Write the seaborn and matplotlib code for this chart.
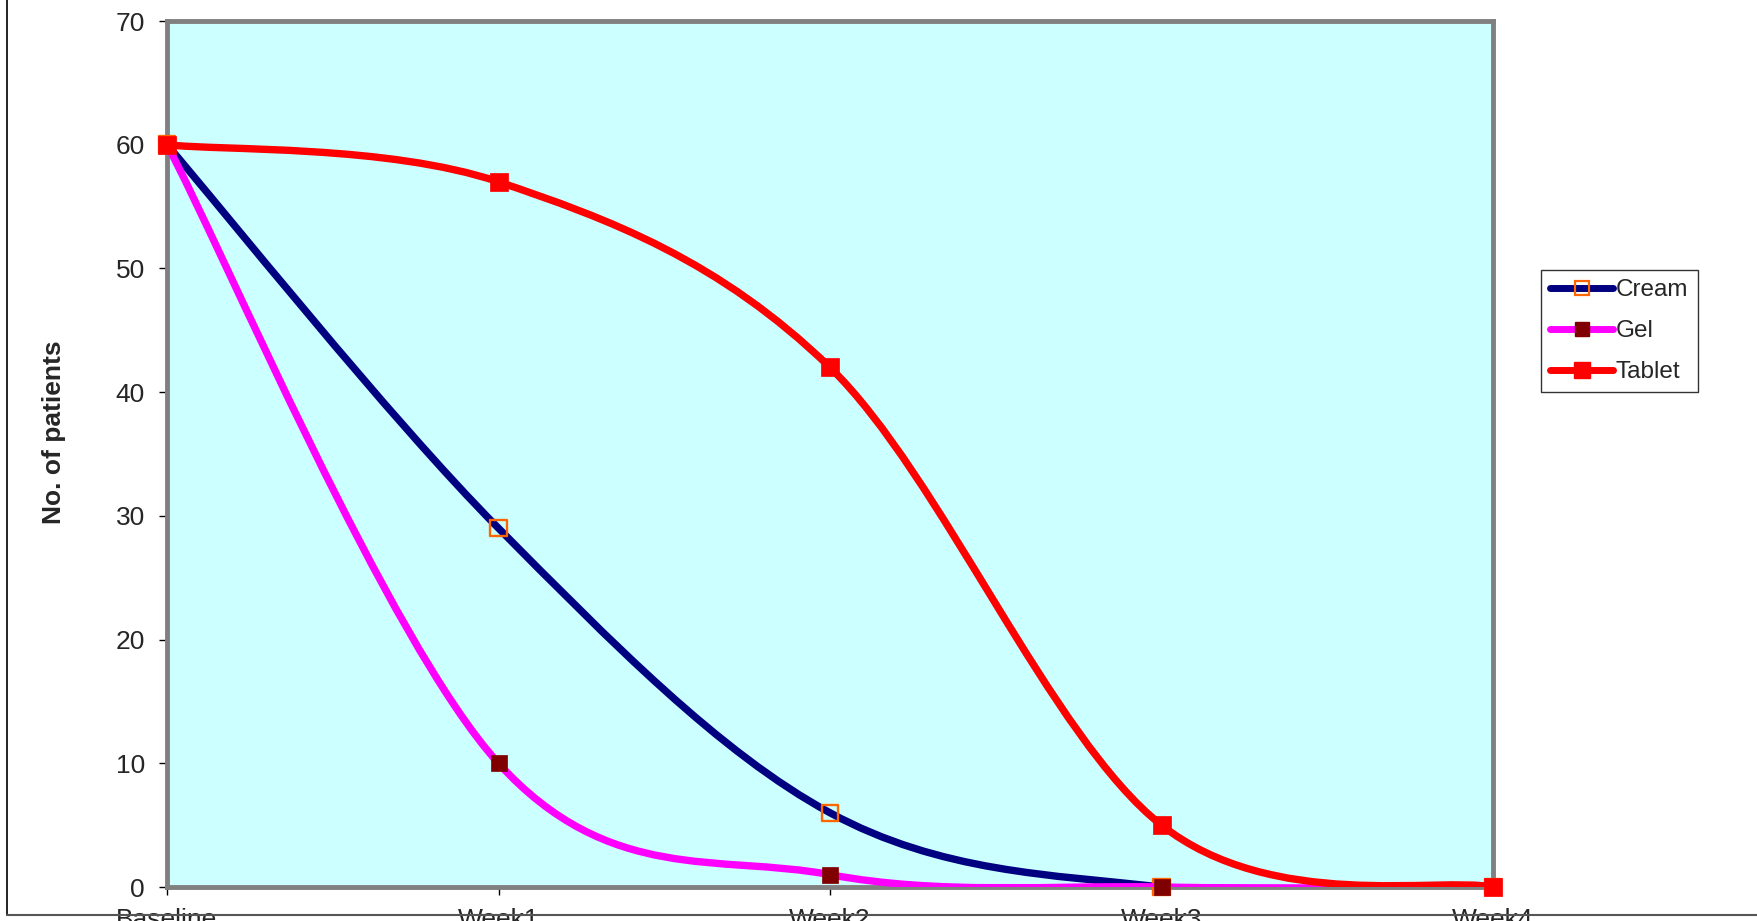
# import libraries
import seaborn as sns
import pandas as pd
import numpy as np
import matplotlib.pyplot as plt
from matplotlib.path import Path
from matplotlib.patches import PathPatch
from matplotlib.lines import Line2D

# data
weeks = ["Baseline", "Week1", "Week2", "Week3", "Week4"]
cream = [60, 29, 6, 0, 0]
gel = [60, 10, 1, 0, 0]
tablet = [60, 57, 42, 5, 0]

df = pd.DataFrame({"Week": weeks, "Cream": cream, "Gel": gel, "Tablet": tablet})
df["pos"] = np.arange(len(weeks))

sns.set_style("white")
plt.rcParams["font.family"] = ["Liberation Sans", "DejaVu Sans"]


# excel style smoothed line (catmull-rom bezier through the data points)
def smooth_path(x, y):
    x = list(x)
    y = list(y)
    n = len(x)
    verts = [(x[0], y[0])]
    codes = [Path.MOVETO]
    for i in range(n - 1):
        a = i - 1 if i > 0 else i
        b = i + 2 if i + 2 < n else i + 1
        c1 = (x[i] + (x[i + 1] - x[a]) / 6, y[i] + (y[i + 1] - y[a]) / 6)
        c2 = (x[i + 1] - (x[b] - x[i]) / 6, y[i + 1] - (y[b] - y[i]) / 6)
        verts += [c1, c2, (x[i + 1], y[i + 1])]
        codes += [Path.CURVE4] * 3
    return Path(verts, codes)


fig = plt.figure(figsize=(17.57, 9.21), dpi=100)
ax = fig.add_axes([167 / 1757, 1 - 887 / 921, (1493 - 167) / 1757, (887 - 21) / 921])
ax.set_facecolor("#CCFFFF")

styles = {
    "Cream": dict(line="#000080", face="none", edge="#FF6600", s=140, lw=1.7),
    "Gel": dict(line="#FF00FF", face="#800000", edge="#800000", s=140, lw=0.5),
    "Tablet": dict(line="#FF0000", face="#FF0000", edge="#FF0000", s=155, lw=0.5),
}

z = 3
for name in ["Cream", "Gel", "Tablet"]:
    st = styles[name]
    patch = PathPatch(smooth_path(df["pos"], df[name]), facecolor="none",
                      edgecolor=st["line"], lw=5.3, zorder=z, capstyle="round")
    ax.add_patch(patch)
    sns.scatterplot(data=df, x="pos", y=name, marker="s", s=st["s"],
                    facecolor=st["face"], edgecolor=st["edge"], linewidth=st["lw"],
                    zorder=z + 0.5, clip_on=False, ax=ax, legend=False)
    z += 1

ax.set_xlim(0, 4)
ax.set_ylim(0, 70)
ax.set_xticks(df["pos"])
ax.set_xticklabels(weeks)
ax.set_yticks(np.arange(0, 71, 10))
ax.set_xlabel("")
ax.set_ylabel("No. of patients", fontsize=19, fontweight="bold")
ax.yaxis.set_label_coords(-0.076, 0.525)
ax.tick_params(axis="both", direction="out", length=6, width=1, color="black",
               labelsize=19, left=True, bottom=True)
ax.tick_params(axis="y", pad=10)
ax.tick_params(axis="x", pad=9)

for side in ["top", "right", "left", "bottom"]:
    ax.spines[side].set_color("#808080")
    ax.spines[side].set_linewidth(3.5)
    ax.spines[side].set_zorder(2.5)

handles = [
    Line2D([], [], color="#000080", lw=5, marker="s", markersize=10,
           markerfacecolor="none", markeredgecolor="#FF6600", markeredgewidth=1.6),
    Line2D([], [], color="#FF00FF", lw=5, marker="s", markersize=10.5,
           markerfacecolor="#800000", markeredgecolor="#800000"),
    Line2D([], [], color="#FF0000", lw=5, marker="s", markersize=11,
           markerfacecolor="#FF0000", markeredgecolor="#FF0000"),
]
leg = fig.legend(handles, ["Cream", "Gel", "Tablet"], loc="upper left",
                 bbox_to_anchor=(1541 / 1757, 1 - 270 / 921), fontsize=17.5,
                 frameon=True, fancybox=False, edgecolor="black",
                 handlelength=2.6, handletextpad=0.1, labelspacing=0.78,
                 borderpad=0.38, borderaxespad=0)
leg.get_frame().set_linewidth(1)

# outer chart border (cropped at the bottom)
fig.add_artist(Line2D([7 / 1757, 7 / 1757], [1 - 915 / 921, 1], color="black", lw=1.2))
fig.add_artist(Line2D([7 / 1757, 1], [1 - 915 / 921, 1 - 915 / 921], color="#555555", lw=1.5))

fig.savefig("out.png", dpi=100)
